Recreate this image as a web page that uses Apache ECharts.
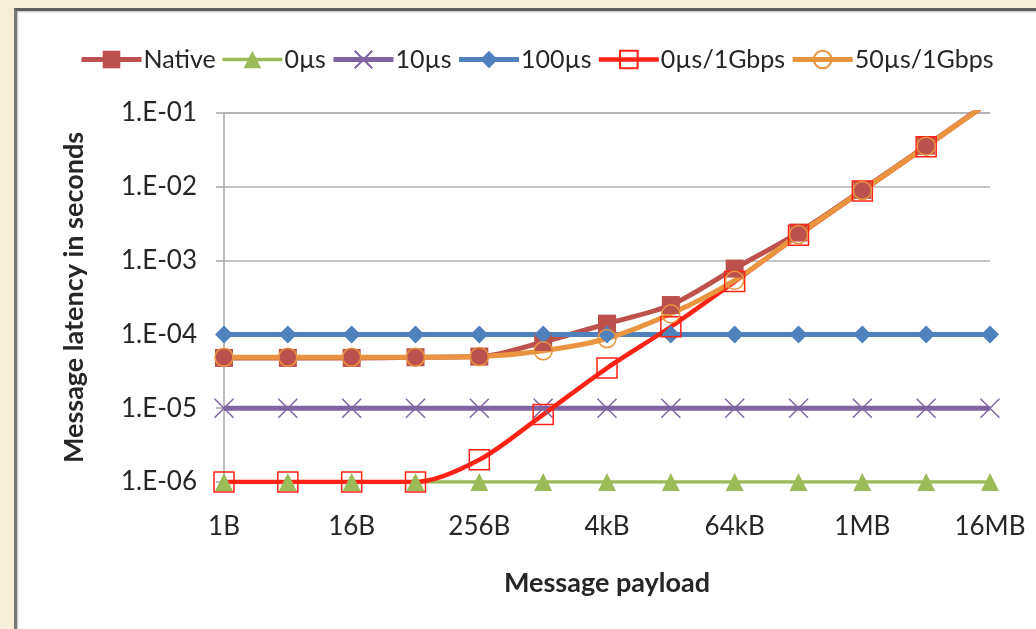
<!DOCTYPE html>
<html>
<head>
<meta charset="utf-8">
<script src="https://cdn.jsdelivr.net/npm/echarts@6/dist/echarts.min.js"></script>
<style>
  html, body { margin: 0; padding: 0; width: 1036px; height: 629px; overflow: hidden; background: #f6eed9; }
  #panel { position: absolute; left: 14px; top: 8px; width: 1030px; height: 630px; background: #fff;
           border-top: 3px solid #606060; border-left: 3px solid #777; box-shadow: inset 1px 1px 2px rgba(0,0,0,0.25); }
  #chart { position: absolute; left: 0; top: 0; width: 1036px; height: 629px; }
</style>
</head>
<body>
<div id="panel"></div>
<div id="chart"></div>
<script>
// Message sizes on the horizontal axis
const payloads = ['1B', '4B', '16B', '64B', '256B', '1kB', '4kB', '16kB', '64kB', '256kB', '1MB', '4MB', '16MB'];

// Latency in seconds per configuration
const nativeLat  = [4.8e-5, 4.8e-5, 4.8e-5, 4.9e-5, 5.0e-5, 7.9e-5, 1.4e-4, 2.5e-4, 7.8e-4, 2.4e-3, 9.1e-3, 3.6e-2, 1.45e-1];
const zeroUs     = [1e-6, 1e-6, 1e-6, 1e-6, 1e-6, 1e-6, 1e-6, 1e-6, 1e-6, 1e-6, 1e-6, 1e-6, 1e-6];
const tenUs      = [1e-5, 1e-5, 1e-5, 1e-5, 1e-5, 1e-5, 1e-5, 1e-5, 1e-5, 1e-5, 1e-5, 1e-5, 1e-5];
const hundredUs  = [1e-4, 1e-4, 1e-4, 1e-4, 1e-4, 1e-4, 1e-4, 1e-4, 1e-4, 1e-4, 1e-4, 1e-4, 1e-4];
const zeroUsGbps = [1e-6, 1e-6, 1e-6, 1e-6, 2.0e-6, 8.2e-6, 3.5e-5, 1.27e-4, 5.2e-4, 2.2e-3, 8.8e-3, 3.5e-2, 1.42e-1];
const fiftyUsGbps= [4.9e-5, 4.9e-5, 4.9e-5, 4.9e-5, 5.0e-5, 6.0e-5, 8.8e-5, 1.9e-4, 5.4e-4, 2.25e-3, 8.9e-3, 3.55e-2, 1.43e-1];

const seriesNames = ['Native', '0µs', '10µs', '100µs', '0µs/1Gbps', '50µs/1Gbps'];

const FONT = 'Lato';
const TXT = '#262626';

function sciLabel(v) {
  const e = Math.round(Math.log10(v));
  return '1.E' + (e < 0 ? '-' : '+') + String(Math.abs(e)).padStart(2, '0');
}

function lineSeries(name, data, color, width, symbol, size, itemStyle, smooth) {
  return {
    name, type: 'line', data,
    symbol, symbolSize: size,
    smooth: smooth,
    lineStyle: { color, width },
    itemStyle: Object.assign({ color, borderWidth: 0 }, itemStyle || {}),
    emphasis: { disabled: true }
  };
}

const lineWidths = [5, 3.5, 5, 5, 4.5, 5];

const chart = echarts.init(document.getElementById('chart'), null, { renderer: 'canvas' });
chart.setOption({
  animation: false,
  backgroundColor: 'transparent',
  textStyle: { fontFamily: FONT, color: TXT },
  legend: {
    left: 74, top: 42,
    itemWidth: 60, itemHeight: 22, itemGap: 5,
    textStyle: { fontFamily: FONT, fontSize: 25, color: TXT, padding: [0, 0, 0, -3] },
    data: seriesNames.map((n, i) => ({ name: n, lineStyle: { width: lineWidths[i] } }))
  },
  grid: { left: 224, right: 46, top: 113, bottom: 147 },
  xAxis: {
    type: 'category', data: payloads, boundaryGap: false,
    name: 'Message payload', nameLocation: 'middle', nameGap: 88,
    nameTextStyle: { fontFamily: FONT, fontSize: 27, fontWeight: 'bold', color: TXT },
    axisLine: { show: true, lineStyle: { color: '#a8a8a8', width: 1.5 } },
    axisTick: { show: false },
    axisLabel: { interval: 1, margin: 32, fontFamily: FONT, fontSize: 26, color: TXT },
    splitLine: { show: false }
  },
  yAxis: {
    type: 'log', logBase: 10, min: 1e-6, max: 0.1,
    name: 'Message latency in seconds', nameLocation: 'middle', nameGap: 136,
    nameTextStyle: { fontFamily: FONT, fontSize: 27, fontWeight: 'bold', color: TXT },
    axisLine: { show: true, lineStyle: { color: '#a8a8a8', width: 1.5 } },
    axisTick: { show: true, length: 8, lineStyle: { color: '#a8a8a8', width: 1.5 } },
    axisLabel: { margin: 27, fontFamily: FONT, fontSize: 26, color: TXT, formatter: sciLabel },
    splitLine: { show: true, lineStyle: { color: '#b0b0b0', width: 1.5 } },
    minorTick: { show: false }
  },
  series: [
    lineSeries(seriesNames[0], nativeLat, '#bd514d', lineWidths[0], 'rect', 18, null, 0.3),
    lineSeries(seriesNames[1], zeroUs, '#9bbb59', lineWidths[1], 'triangle', 18, null, false),
    lineSeries(seriesNames[2], tenUs, '#8064a2', lineWidths[2], 'path://M0,0L10,10M10,0L0,10', 19,
               { color: 'transparent', borderColor: '#8064a2', borderWidth: 1.5 }, false),
    lineSeries(seriesNames[3], hundredUs, '#4f81bd', lineWidths[3], 'diamond', 18, null, false),
    lineSeries(seriesNames[4], zeroUsGbps, '#ff2216', lineWidths[4], 'rect', 20,
               { color: 'transparent', borderColor: '#ff2216', borderWidth: 1.5 }, 0.3),
    lineSeries(seriesNames[5], fiftyUsGbps, '#e9953f', lineWidths[5], 'circle', 18,
               { color: 'transparent', borderColor: '#e9953f', borderWidth: 1.5 }, 0.3)
  ]
});
</script>
</body>
</html>
